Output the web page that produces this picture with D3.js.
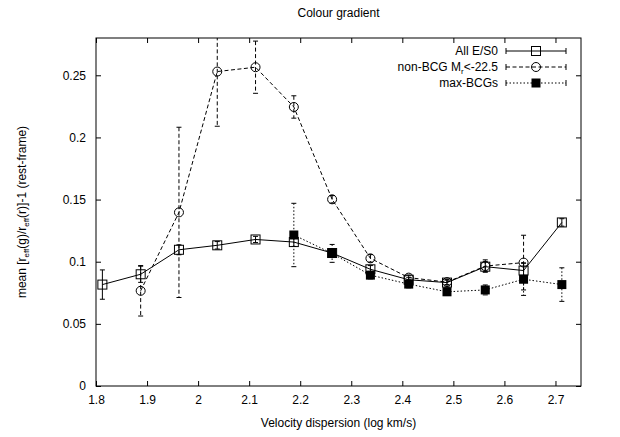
<!DOCTYPE html>
<html>
<head>
<meta charset="utf-8">
<script src="https://cdn.jsdelivr.net/npm/d3@7"></script>
<style>
  body { margin: 0; background: #fff; }
  svg { font-family: "Liberation Sans", Arial, sans-serif; }
</style>
</head>
<body>
<script>
//chart values
var xBins = [1.8125, 1.8875, 1.9625, 2.0375, 2.1125, 2.1875, 2.2625, 2.3375, 2.4125, 2.4875, 2.5625, 2.6375, 2.7125];

var allVal = [0.0816, 0.0899, 0.1096, 0.1132, 0.1179, 0.1158, 0.1070, 0.0939, 0.0855, 0.0832, 0.0960, 0.0929, 0.1316];
var allErr = [0.0118, 0.0065, 0.0040, 0.0030, 0.0025, 0.0035, 0.0030, 0.0030, 0.0020, 0.0020, 0.0040, 0.0060, 0.0030];

var nonX   = [1.8875, 1.9625, 2.0375, 2.1125, 2.1875, 2.2625, 2.3375, 2.4125, 2.4875, 2.5625, 2.6375];
var nonVal = [0.0766, 0.1397, 0.2530, 0.2565, 0.2245, 0.1502, 0.1027, 0.0872, 0.0836, 0.0965, 0.0993];
var nonErr = [0.0203, 0.0685, 0.0440, 0.0210, 0.0090, 0.0030, 0.0030, 0.0020, 0.0020, 0.0050, 0.0220];

var bcgX   = [2.1875, 2.2625, 2.3375, 2.4125, 2.4875, 2.5625, 2.6375, 2.7125];
var bcgVal = [0.1215, 0.1067, 0.0892, 0.0820, 0.0758, 0.0773, 0.0859, 0.0816];
var bcgErr = [0.0255, 0.0072, 0.0030, 0.0030, 0.0030, 0.0040, 0.0130, 0.0135];

var xTicks = [1.8, 1.9, 2.0, 2.1, 2.2, 2.3, 2.4, 2.5, 2.6, 2.7];
var yTicks = [0, 0.05, 0.1, 0.15, 0.2, 0.25];

window.onload = drawChart();

function drawChart(){

    //frame
    var width = 620,
        height = 437,
        pLeft = 96, pRight = 581, pTop = 38, pBottom = 386;

    var svg = d3.select('body')
        .append('svg')
        .attr('width', width)
        .attr('height', height);

    var x = d3.scaleLinear().domain([1.8, 2.75]).range([pLeft, pRight]);
    var y = d3.scaleLinear().domain([0, 0.28]).range([pBottom, pTop]);

    svg.append('defs').append('clipPath')
        .attr('id', 'plotclip')
        .append('rect')
        .attr('x', pLeft).attr('y', pTop)
        .attr('width', pRight - pLeft).attr('height', pBottom - pTop);

    //axes with inward ticks, mirrored
    var fmt = function(d){ return String(+d.toFixed(2)); };

    svg.append('g')
        .attr('transform', 'translate(0,' + pBottom + ')')
        .call(d3.axisBottom(x).tickValues(xTicks).tickSizeInner(-5).tickSizeOuter(0).tickPadding(9).tickFormat(fmt));
    svg.append('g')
        .attr('transform', 'translate(0,' + pTop + ')')
        .call(d3.axisTop(x).tickValues(xTicks).tickSizeInner(-5).tickSizeOuter(0).tickFormat(''));
    svg.append('g')
        .attr('transform', 'translate(' + pLeft + ',0)')
        .call(d3.axisLeft(y).tickValues(yTicks).tickSizeInner(-5).tickSizeOuter(0).tickPadding(10).tickFormat(fmt));
    svg.append('g')
        .attr('transform', 'translate(' + pRight + ',0)')
        .call(d3.axisRight(y).tickValues(yTicks).tickSizeInner(-5).tickSizeOuter(0).tickFormat(''));

    svg.selectAll('.domain').remove();
    svg.selectAll('.tick line').attr('stroke', '#000');
    svg.selectAll('.tick text').attr('font-size', 12).attr('fill', '#000')
        .attr('font-family', '"Liberation Sans", Arial, sans-serif');

    svg.append('rect')
        .attr('x', pLeft).attr('y', pTop)
        .attr('width', pRight - pLeft).attr('height', pBottom - pTop)
        .attr('fill', 'none').attr('stroke', '#000').attr('stroke-width', 1);

    //titles
    svg.append('text')
        .attr('x', (pLeft + pRight) / 2).attr('y', 17)
        .attr('text-anchor', 'middle').attr('font-size', 12)
        .text('Colour gradient');

    svg.append('text')
        .attr('x', (pLeft + pRight) / 2).attr('y', 427)
        .attr('text-anchor', 'middle').attr('font-size', 12)
        .text('Velocity dispersion (log km/s)');

    var ylab = svg.append('text')
        .attr('transform', 'translate(26,' + ((pTop + pBottom) / 2) + ') rotate(-90)')
        .attr('text-anchor', 'middle').attr('font-size', 12);
    ylab.append('tspan').text('mean [r');
    ylab.append('tspan').attr('font-size', 8).attr('dy', 3).text('eff');
    ylab.append('tspan').attr('dy', -3).text('(g)/r');
    ylab.append('tspan').attr('font-size', 8).attr('dy', 3).text('eff');
    ylab.append('tspan').attr('dy', -3).text('(r)]-1 (rest-frame)');

    //series
    var series = [
        {xs: xBins, vals: allVal, errs: allErr, dash: null, marker: 'square'},
        {xs: nonX, vals: nonVal, errs: nonErr, dash: '4,2.5', marker: 'circle'},
        {xs: bcgX, vals: bcgVal, errs: bcgErr, dash: '1.5,2', marker: 'filled'}
    ];

    var plot = svg.append('g').attr('clip-path', 'url(#plotclip)');

    function drawMarker(g, type, cx, cy){
        if (type === 'square') {
            g.append('rect').attr('x', cx - 4.5).attr('y', cy - 4.5).attr('width', 9).attr('height', 9)
                .attr('fill', 'none').attr('stroke', '#000').attr('stroke-width', 1);
        } else if (type === 'circle') {
            g.append('circle').attr('cx', cx).attr('cy', cy).attr('r', 4.5)
                .attr('fill', 'none').attr('stroke', '#000').attr('stroke-width', 1);
        } else {
            g.append('rect').attr('x', cx - 4.5).attr('y', cy - 4.5).attr('width', 9).attr('height', 9)
                .attr('fill', '#000');
        }
    }

    series.forEach(function(s){
        var pts = s.xs.map(function(d, i){ return [d, s.vals[i], s.errs[i]]; });
        var g = plot.append('g');

        //error bars
        pts.forEach(function(p){
            var px = x(p[0]), y1 = y(p[1] + p[2]), y2 = y(p[1] - p[2]);
            var eb = g.append('g').attr('stroke', '#000').attr('stroke-width', 1);
            eb.append('line').attr('x1', px).attr('x2', px).attr('y1', y1).attr('y2', y2)
                .attr('stroke-dasharray', s.dash);
            eb.append('line').attr('x1', px - 2.5).attr('x2', px + 2.5).attr('y1', y1).attr('y2', y1);
            eb.append('line').attr('x1', px - 2.5).attr('x2', px + 2.5).attr('y1', y2).attr('y2', y2);
        });

        //connecting line
        g.append('path')
            .datum(pts)
            .attr('d', d3.line().x(function(d){ return x(d[0]); }).y(function(d){ return y(d[1]); }))
            .attr('fill', 'none').attr('stroke', '#000').attr('stroke-width', 1)
            .attr('stroke-dasharray', s.dash);

        pts.forEach(function(p){ drawMarker(g, s.marker, x(p[0]), y(p[1])); });
    });

    //legend
    var legendRows = [
        {label: ['All E/S0'], dash: null, marker: 'square'},
        {label: ['non-BCG M', 'r', '<-22.5'], dash: '4,2.5', marker: 'circle'},
        {label: ['max-BCGs'], dash: '1.5,2', marker: 'filled'}
    ];

    legendRows.forEach(function(r, i){
        var ly = 51 + i * 16;
        var t = svg.append('text').attr('x', 498).attr('y', ly + 4)
            .attr('text-anchor', 'end').attr('font-size', 12);
        t.append('tspan').text(r.label[0]);
        if (r.label.length > 1) {
            t.append('tspan').attr('font-size', 8).attr('dy', 3).text(r.label[1]);
            t.append('tspan').attr('dy', -3).text(r.label[2]);
        }
        var g = svg.append('g');
        g.append('line').attr('x1', 506).attr('x2', 566).attr('y1', ly).attr('y2', ly)
            .attr('stroke', '#000').attr('stroke-dasharray', r.dash);
        [506, 566].forEach(function(ex){
            g.append('line').attr('x1', ex).attr('x2', ex).attr('y1', ly - 3).attr('y2', ly + 3)
                .attr('stroke', '#000');
        });
        drawMarker(g, r.marker, 536, ly);
    });
}
</script>
</body>
</html>
